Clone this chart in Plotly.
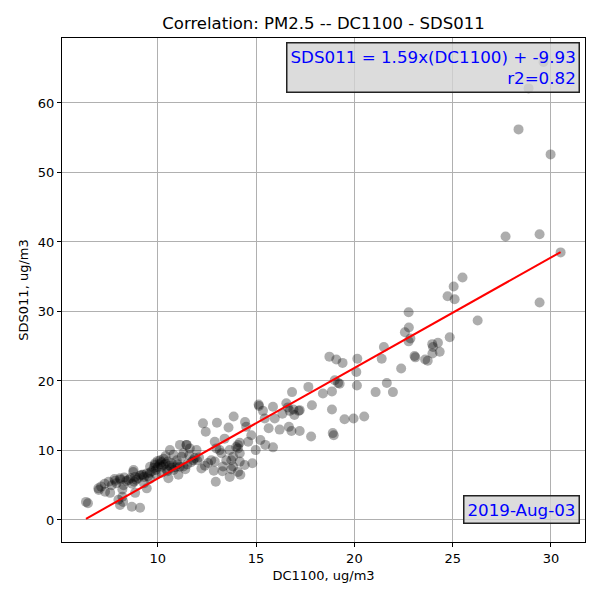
import numpy as np
import plotly.graph_objects as go

# DC1100 (x) and SDS011 (y) readings, ug/m3
dc1100 = [
    28.86, 29.62, 28.35, 29.98, 27.69, 29.42, 30.49, 25.5, 25.05, 24.74, 25.1, 29.42, 26.27, 24.85,
    22.76, 22.77, 22.57, 22.85, 22.76, 23.96, 24.25, 24.0, 24.34, 23.97, 23.06, 23.1, 23.6, 23.73,
    22.38, 21.5, 21.39, 21.65, 21.08, 21.96,
    20.15, 19.4, 19.08, 18.73, 20.1, 19.25, 19.0, 19.17, 20.13, 17.66, 18.4, 18.86, 17.84, 18.86,
    17.22, 19.5, 19.96, 20.5, 18.9, 18.95, 17.8, 16.83,
    15.13, 15.15, 15.35, 15.86, 16.54, 16.62, 16.71, 16.9, 17.17, 16.34, 16.95, 14.44, 14.5, 15.95,
    15.44, 15.64, 16.2, 16.67, 16.8, 17.22, 14.76, 15.22, 14.6, 14.17, 15.47, 15.86, 14.98, 14.81, 14.42,
    12.3, 13.01, 13.86, 13.6, 12.44, 14.08, 14.08, 13.4, 12.9, 13.15, 13.66, 13.24, 13.83, 14.17,
    12.9, 12.72, 13.49, 13.74, 14.17, 13.32, 12.85, 13.29, 13.83, 14.08, 14.2, 13.66, 12.95, 12.22,
    12.56, 11.88, 11.97, 11.63, 11.46, 11.12, 11.8, 13.99, 13.74, 12.98,
    6.35, 6.45, 7.12, 6.98, 7.32, 7.58, 7.66, 7.83, 8.08, 8.26, 8.0, 8.2, 8.08, 8.68, 9.1, 8.85,
    9.44, 8.51, 8.77, 8.85, 9.19, 9.44, 9.61, 9.86, 10.12, 10.2, 10.46, 10.54, 10.62, 11.13, 11.47,
    11.22, 11.05, 10.71, 10.97,
    7.0, 7.3, 7.5, 7.9, 8.1, 8.3, 8.4, 8.6, 8.8, 9.0, 9.1, 9.3, 9.5, 9.6, 9.7, 9.8, 9.9, 10.0, 10.1,
    10.2, 10.3, 10.4, 10.5, 10.6, 10.7, 10.8, 10.9, 11.0, 11.3, 11.5, 11.7, 12.0, 10.0, 10.3, 10.5,
    10.2, 9.9, 8.9, 8.7, 7.8, 11.4, 11.6, 12.1, 10.8, 10.4, 9.3, 9.6, 8.2, 11.3, 12.4,
    8.75, 9.25, 9.85, 8.24,
]
sds011 = [
    62.1, 65.9, 56.2, 52.6, 40.8, 41.1, 38.5, 34.9, 33.6, 32.2, 31.75, 31.3, 28.7, 26.3,
    29.9, 27.7, 27.0, 26.1, 25.7, 25.3, 25.5, 24.9, 24.2, 23.95, 23.6, 23.4, 23.1, 22.9,
    21.8, 24.9, 23.2, 19.7, 18.4, 18.4,
    23.2, 22.6, 23.1, 23.5, 21.3, 19.6, 20.1, 19.7, 19.35, 19.15, 18.2, 18.5, 16.5, 15.9,
    15.8, 14.5, 14.6, 14.9, 12.5, 12.2, 12.0, 18.4,
    16.6, 16.4, 15.7, 16.3, 16.8, 16.2, 15.7, 15.9, 15.7, 15.3, 15.1, 14.1, 13.4, 14.6,
    14.6, 13.2, 13.0, 13.4, 12.8, 12.8, 12.2, 11.5, 11.25, 11.1, 10.8, 10.45, 10.05, 8.15, 7.9,
    13.9, 14.0, 14.9, 13.3, 12.7, 10.8, 10.3, 11.7, 11.25, 10.05, 10.05, 9.6, 9.1, 9.6,
    8.4, 8.6, 8.6, 8.6, 8.4, 7.7, 7.1, 7.0, 7.7, 6.9, 6.5, 6.2, 5.5, 7.4,
    8.2, 8.9, 10.05, 10.3, 10.8, 7.65, 8.6, 10.5, 7.3, 10.3,
    2.6, 2.4, 4.8, 4.55, 4.07, 3.9, 5.0, 5.65, 6.0, 5.0, 2.9, 3.35, 2.15, 1.9, 1.75, 3.9,
    4.55, 5.75, 7.2, 6.2, 6.5, 6.7, 7.65, 8.15, 8.6, 7.65, 7.2, 6.0, 10.05, 10.8, 10.8,
    9.1, 6.5, 8.15, 8.6,
    4.3, 5.2, 5.5, 5.3, 5.8, 6.1, 5.6, 6.0, 5.5, 6.0, 6.4, 6.2, 6.3, 6.8, 7.0, 7.5, 7.2, 7.6, 8.0,
    8.3, 7.9, 8.1, 8.4, 7.8, 7.5, 7.2, 7.6, 8.0, 7.7, 8.0, 8.3, 8.6, 8.5, 8.8, 7.0,
    6.8, 6.6, 5.8, 5.2, 5.9, 7.3, 9.3, 9.0, 9.4, 9.2, 5.3, 5.9, 4.4, 9.6, 7.8,
    6.9, 6.5, 7.9, 2.6,
]

slope = 1.59
intercept = -9.93
r2 = 0.82
date_label = "2019-Aug-03"

x_arr = np.array(dc1100)
fit_x = np.array([x_arr.min(), x_arr.max()])
fit_y = slope * fit_x + intercept

font = "DejaVu Sans"
fig = go.Figure()
fig.add_trace(go.Scatter(
    x=dc1100, y=sds011, mode="markers",
    marker=dict(size=10, color="rgba(0,0,0,0.32)", line=dict(width=0)),
    showlegend=False, hoverinfo="skip",
))
fig.add_trace(go.Scatter(
    x=fit_x, y=fit_y, mode="lines",
    line=dict(color="red", width=2), showlegend=False,
))

axis_common = dict(
    showgrid=True, gridcolor="#b0b0b0", gridwidth=1,
    showline=True, linecolor="black", linewidth=1, mirror=True,
    ticks="outside", ticklen=4, tickcolor="black", tickwidth=1,
    zeroline=False, tickfont=dict(family=font, size=13, color="black"),
)
fig.update_xaxes(range=[5.13, 31.73], dtick=5, tick0=0,
                 title=dict(text="DC1100, ug/m3", font=dict(family=font, size=13, color="black"), standoff=6),
                 **axis_common)
fig.update_yaxes(range=[-3.17, 69.35], dtick=10, tick0=0,
                 title=dict(text="SDS011, ug/m3", font=dict(family=font, size=13, color="black"), standoff=6),
                 **axis_common)

box_bg = "rgba(211,211,211,0.8)"
fig.update_layout(
    width=600, height=600,
    margin=dict(l=62, r=15, t=38, b=58),
    paper_bgcolor="white", plot_bgcolor="white",
    title=dict(text="Correlation: PM2.5 -- DC1100 - SDS011", x=0.5, xref="paper", xanchor="center",
               y=1 - 23 / 600, yanchor="middle",
               font=dict(family=font, size=16.5, color="black")),
    annotations=[
        dict(xref="paper", yref="paper", x=0.990, y=0.993, xanchor="right", yanchor="top",
             text=f"SDS011 = {slope}x(DC1100) + {intercept}<br>r2={r2}", align="right",
             showarrow=False, font=dict(family=font, size=16.7, color="blue"),
             bgcolor=box_bg, bordercolor="#222", borderwidth=1.5, borderpad=3),
        dict(xref="paper", yref="paper", x=0.990, y=0.036, xanchor="right", yanchor="bottom",
             text=date_label, align="right",
             showarrow=False, font=dict(family=font, size=16.7, color="blue"),
             bgcolor=box_bg, bordercolor="#222", borderwidth=1.5, borderpad=3),
    ],
)

fig.write_html("out.html")
